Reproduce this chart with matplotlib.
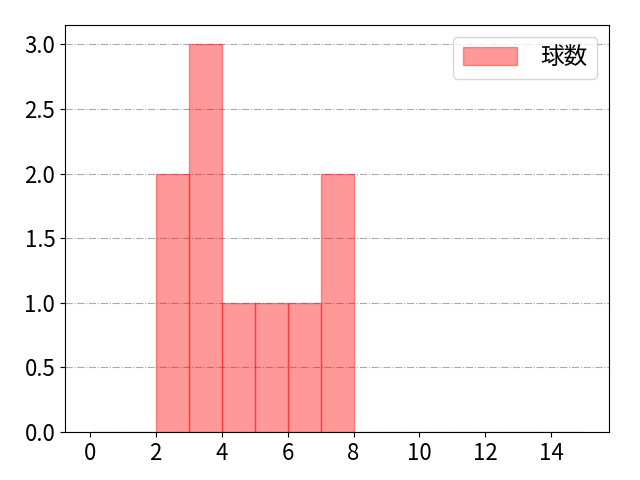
import matplotlib
matplotlib.use("Agg")
import matplotlib.pyplot as plt

plt.rcParams['font.family'] = ['Noto Sans CJK JP', 'DejaVu Sans']
plt.rcParams['font.size'] = 16

bin_edges = [0, 1, 2, 3, 4, 5, 6, 7, 8, 9, 10, 11, 12, 13, 14, 15]
counts = [0, 0, 2, 3, 1, 1, 1, 2, 0, 0, 0, 0, 0, 0, 0]
label = "球数"

fig, ax = plt.subplots(figsize=(6.4, 4.8), dpi=100)
ax.hist(bin_edges[:-1], bins=bin_edges, weights=counts, color='red', alpha=0.4,
        edgecolor='red', label=label, zorder=2)
ax.set_xlim(-0.75, 15.75)
ax.set_xticks(range(0, 15, 2))
ax.set_ylim(0, 3.15)
ax.grid(axis='y', linestyle='-.', color='#aaaaaa', linewidth=0.8, zorder=0)
ax.set_axisbelow(True)
leg = ax.legend(loc='upper right', handlelength=2.3, handleheight=0.85,
                handletextpad=1.0, fontsize=17)
fig.subplots_adjust(left=0.1016, right=0.9516, top=0.948, bottom=0.1)
fig.savefig("out.png", dpi=100)
